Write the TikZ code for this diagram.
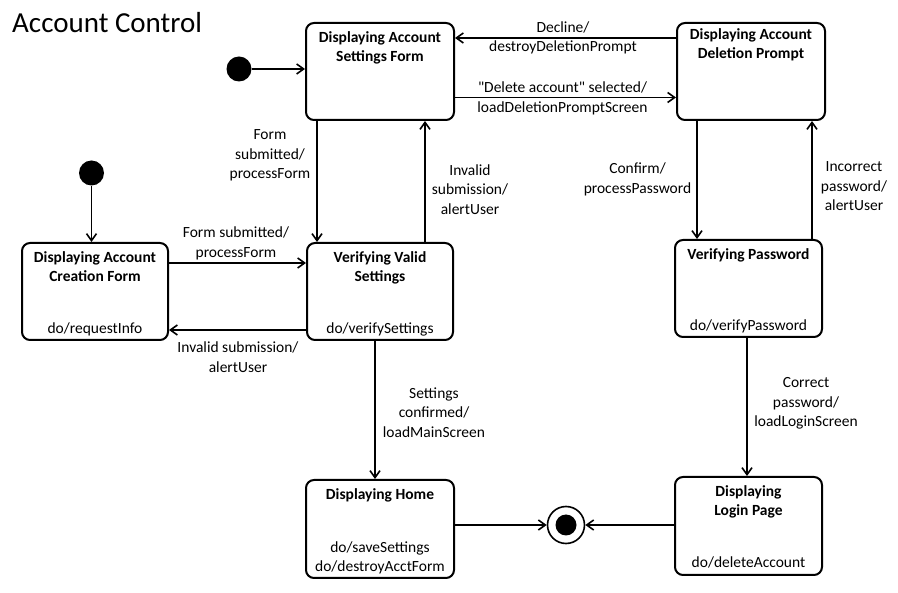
\documentclass[tikz,border=0pt]{standalone}
\usepackage{fontspec}
\setmainfont{Carlito}[Ligatures=TeXOff]
\usetikzlibrary{arrows.meta,calc}
\newcommand\stv{\rule[-5.5pt]{0pt}{19.5pt}}
\begin{document}
\begin{tikzpicture}[x=1pt,y=-1pt,
  state/.style={draw,line width=2pt,rounded corners=8pt,inner sep=0pt},
  ttl/.style={font=\fontsize{15.5}{19.5}\selectfont\bfseries,align=center,inner sep=0pt,anchor=north},
  act/.style={font=\fontsize{15.5}{19.5}\selectfont,align=center,inner sep=0pt,anchor=south},
  lbl/.style={font=\fontsize{15.5}{19.5}\selectfont,align=center,inner sep=0pt},
  tr/.style={line width=1.6pt,-{Straight Barb[length=7pt,width=10pt]}},
  init/.style={circle,fill=black,minimum size=25pt,inner sep=0pt}
]
\useasboundingbox (0,0) rectangle (898,593);
\node[font=\fontsize{29}{34}\selectfont,anchor=base west,inner sep=0pt] (title) at (12,32.7) {Account Control};

% states
\node[state,minimum width=148pt,minimum height=97pt] (S) at (380,71.5) {};
\node[state,minimum width=148pt,minimum height=97pt] (D) at (751,71.5) {};
\node[state,minimum width=146pt,minimum height=97pt] (C) at (95,291.5) {};
\node[state,minimum width=146pt,minimum height=97pt] (V) at (380,291.5) {};
\node[state,minimum width=147pt,minimum height=97pt] (P) at (748.5,288.5) {};
\node[state,minimum width=148pt,minimum height=98pt] (H) at (380,529) {};
\node[state,minimum width=147pt,minimum height=98pt] (L) at (748.5,526) {};

\node[ttl] (St) at ([yshift=-6pt]S.north) {\stv Displaying Account\\\stv Settings Form};
\node[ttl] (Dt) at ([yshift=-3pt]D.north) {\stv Displaying Account\\\stv Deletion Prompt};
\node[ttl] (Ct) at ([yshift=-6pt]C.north) {\stv Displaying Account\\\stv Creation Form};
\node[act] (Ca) at ([yshift=1.5pt]C.south) {\stv do/requestInfo};
\node[ttl] (Vt) at ([yshift=-6pt]V.north) {\stv Verifying Valid\\\stv Settings};
\node[act] (Va) at ([yshift=1.5pt]V.south) {\stv do/verifySettings};
\node[ttl] (Pt) at ([yshift=-6pt]P.north) {\stv Verifying Password};
\node[act] (Pa) at ([yshift=1.5pt]P.south) {\stv do/verifyPassword};
\node[ttl] (Ht) at ([yshift=-6pt]H.north) {\stv Displaying Home};
\node[act] (Ha) at ([yshift=1.5pt]H.south) {\stv do/saveSettings\\\stv do/destroyAcctForm};
\node[ttl] (Lt) at ([yshift=-6pt]L.north) {\stv Displaying\\\stv Login Page};
\node[act] (La) at ([yshift=3pt]L.south) {\stv do/deleteAccount};

% initial and final
\node[init] (I1) at (239,69) {};
\node[init] (I2) at (91.5,173) {};
\node[draw,circle,line width=1.6pt,minimum size=37pt,inner sep=0pt] (F) at (566,525) {};
\fill (F) circle (10.5pt);

% transitions
\draw[tr] (I1) -- (S.west |- I1);
\draw[tr] (I2) -- (I2 |- C.north);
\draw[tr] ([xshift=-63pt]S.south) -- ([xshift=-63pt]V.north)
  node[lbl] at (270,155) {\stv Form\\\stv submitted/\\\stv processForm};
\draw[tr] ([xshift=45pt]V.north) -- ([xshift=45pt]S.south)
  node[lbl] at (470,190.5) {\stv Invalid\\\stv submission/\\\stv alertUser};
\draw[tr] ([yshift=28.5pt]C.east) -- ([yshift=28.5pt]V.west)
  node[lbl] at (236,243.5) {\stv Form submitted/\\\stv processForm};
\draw[tr] ([yshift=-38.5pt]V.west) -- ([yshift=-38.5pt]C.east)
  node[lbl] at (238,358.5) {\stv Invalid submission/\\\stv alertUser};
\draw[tr] ([xshift=-5pt]V.south) -- ([xshift=-5pt]H.north)
  node[lbl] at (434,413.5) {\stv Settings\\\stv confirmed/\\\stv loadMainScreen};
\draw[tr] ([yshift=-26pt]S.east) -- ([yshift=-26pt]D.west)
  node[lbl] at (562.5,98.5) {\stv "Delete account" selected/\\\stv loadDeletionPromptScreen};
\draw[tr] ([yshift=33.5pt]D.west) -- ([yshift=33.5pt]S.east)
  node[lbl] at (563,38) {\stv Decline/\\\stv destroyDeletionPrompt};
\draw[tr] ([xshift=-54pt]D.south) -- ([xshift=-51.5pt]P.north)
  node[lbl] at (637.5,179.5) {\stv Confirm/\\\stv processPassword};
\draw[tr] ([xshift=63.5pt]P.north) -- ([xshift=61pt]D.south)
  node[lbl] at (854,187) {\stv Incorrect\\\stv password/\\\stv alertUser};
\draw[tr] ([xshift=-1.5pt]P.south) -- ([xshift=-1.5pt]L.north)
  node[lbl] at (806,403) {\stv Correct\\\stv password/\\\stv loadLoginScreen};
\draw[tr] (H.east |- F) -- (F);
\draw[tr] (L.west |- F) -- (F);
\end{tikzpicture}
\end{document}
